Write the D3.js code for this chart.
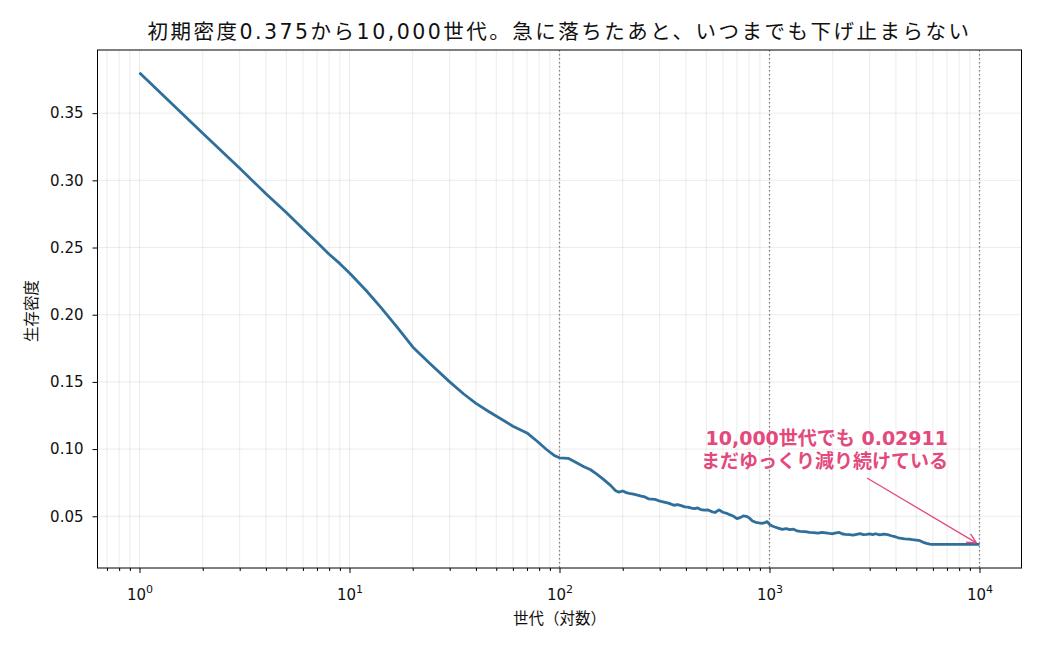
<!DOCTYPE html>
<meta charset="utf-8">
<style>
body{margin:0;background:#fff;}
svg{display:block}
text{font-family:"DejaVu Sans","Noto Sans CJK JP",sans-serif;fill:#111;}
</style>
<svg id="chart" width="1040" height="650"></svg>
<script src="https://d3js.org/d3.v7.min.js"></script>
<script>
// generations (log x) and surviving density
const generations = [1,2,3,4,5,6,7,8,9,10,12,14,17,20,24,30,35,40,46,52,60,70,78,87,95,100,
  110,120,130,140,150,162,175,185,192,200,208,215,225,235,245,255,265,275,285,295,305,315,330,
  340,350,365,380,395,410,425,440,455,470,490,510,530,550,575,600,625,650,675,700,725,750,775,
  800,830,860,890,920,950,975,1000,1030,1060,1100,1150,1200,1250,1300,1350,1400,1480,1550,1620,
  1700,1780,1850,1930,2000,2080,2150,2230,2300,2400,2500,2600,2700,2800,2900,3000,3100,3200,
  3350,3500,3650,3800,3950,4100,4250,4400,4600,4800,5000,5200,5400,5600,5800,5900,10000]
const density = [0.380,0.335,0.309,0.290,0.276,0.264,0.254,0.245,0.238,0.231,0.218,0.206,0.190,
  0.176,0.164,0.150,0.141,0.134,0.128,0.123,0.117,0.112,0.106,0.0995,0.0950,0.0935,
  0.0931,0.0900,0.0870,0.0848,0.0815,0.0775,0.0730,0.0690,0.0680,0.0688,0.0676,0.0670,0.0664,
  0.0657,0.0650,0.0644,0.0630,0.0628,0.0626,0.0617,0.0611,0.0606,0.0598,0.0590,0.0582,0.0586,
  0.0579,0.0570,0.0568,0.0561,0.0557,0.0562,0.0550,0.0546,0.0547,0.0535,0.0528,0.0548,0.0530,
  0.0522,0.0510,0.0500,0.0482,0.0490,0.0503,0.0500,0.0488,0.0465,0.0455,0.0450,0.0447,0.0452,
  0.0460,0.0440,0.0428,0.0420,0.0412,0.0402,0.0408,0.0400,0.0404,0.0392,0.0388,0.0386,0.0380,
  0.0378,0.0374,0.0380,0.0377,0.0372,0.0370,0.0376,0.0380,0.0368,0.0366,0.0364,0.0360,0.0366,
  0.0371,0.0364,0.0366,0.0369,0.0364,0.0370,0.0362,0.0368,0.0363,0.0355,0.0348,0.0340,0.0336,
  0.0332,0.0330,0.0326,0.0323,0.0318,0.0306,0.0298,0.0292,0.02911,0.02911]
const yTicks = [0.05,0.10,0.15,0.20,0.25,0.30,0.35]
const xMajor = [1,10,100,1000,10000]
const markLines = [100,1000,10000]
const titleText = '初期密度0.375から10,000世代。急に落ちたあと、いつまでも下げ止まらない'
const noteLines = ['10,000世代でも 0.02911','まだゆっくり減り続けている']

const W = 1040, H = 650
const m = {left:97.5, right:1021.5, top:50, bottom:568}
const svg = d3.select('#chart')

const x = d3.scaleLog().domain([10**-0.2, 10**4.2]).range([m.left, m.right])
const y = d3.scaleLinear().domain([0.0115, 0.397]).range([m.bottom, m.top])

// minor ticks 2..9 per decade inside the domain
const xMinor = []
for (let e = -1; e <= 4; e++) for (let k = 2; k <= 9; k++) {
  const v = k * 10**e
  if (v >= x.domain()[0] && v <= x.domain()[1]) xMinor.push(v)
}

const grid = svg.append('g')
grid.selectAll('line.vx').data(xMajor.concat(xMinor)).join('line')
  .attr('x1', d => x(d)).attr('x2', d => x(d))
  .attr('y1', m.top).attr('y2', m.bottom)
  .attr('stroke', '#000').attr('stroke-opacity', 0.1).attr('stroke-width', 0.8)
grid.selectAll('line.hy').data(yTicks).join('line')
  .attr('x1', m.left).attr('x2', m.right)
  .attr('y1', d => y(d)).attr('y2', d => y(d))
  .attr('stroke', '#000').attr('stroke-opacity', 0.1).attr('stroke-width', 0.8)

svg.append('g').selectAll('line').data(markLines).join('line')
  .attr('x1', d => x(d)).attr('x2', d => x(d))
  .attr('y1', m.top).attr('y2', m.bottom)
  .attr('stroke', '#808080').attr('stroke-width', 1.3).attr('stroke-dasharray', '1.5,2.5')

const line = d3.line().x((d, i) => x(generations[i])).y(d => y(d))
svg.append('path').datum(density)
  .attr('d', line).attr('fill', 'none')
  .attr('stroke', '#2f6f9c').attr('stroke-width', 2.8)
  .attr('stroke-linejoin', 'round')

// axes
const yAxis = svg.append('g').attr('transform', `translate(${m.left},0)`)
  .call(d3.axisLeft(y).tickValues(yTicks).tickFormat(d3.format('.2f')).tickSize(5).tickPadding(9))
yAxis.select('.domain').remove()
yAxis.selectAll('text').style('font-size', '15px').attr('fill', '#111')

const xAxis = svg.append('g').attr('transform', `translate(0,${m.bottom})`)
  .call(d3.axisBottom(x).tickValues(xMajor).tickFormat('').tickSize(5))
xAxis.select('.domain').remove()
svg.append('g').attr('transform', `translate(0,${m.bottom})`)
  .call(d3.axisBottom(x).tickValues(xMinor).tickFormat('').tickSize(3))
  .select('.domain').remove()

xAxis.selectAll('.tick').each(function(d) {
  const t = d3.select(this).append('text').attr('y', 32).attr('text-anchor', 'middle')
    .style('font-size', '15px').attr('fill', '#111')
  t.append('tspan').text('10')
  t.append('tspan').attr('dy', -7).style('font-size', '11px').text(Math.round(Math.log10(d)))
})

svg.append('rect')
  .attr('x', m.left).attr('y', m.top)
  .attr('width', m.right - m.left).attr('height', m.bottom - m.top)
  .attr('fill', 'none').attr('stroke', '#000').attr('stroke-width', 1)

// labels
svg.append('text').attr('x', (m.left + m.right) / 2).attr('y', 39)
  .attr('text-anchor', 'middle').style('font-size', '20.5px').style('letter-spacing', '2.5px')
  .text(titleText)
svg.append('text').attr('x', (m.left + m.right) / 2).attr('y', 624)
  .attr('text-anchor', 'middle').style('font-size', '15.5px').text('世代（対数）')
svg.append('text').attr('transform', 'translate(37,311) rotate(-90)')
  .attr('text-anchor', 'middle').style('font-size', '15.5px').text('生存密度')

// annotation
const pink = '#e4497c'
const note = svg.append('text').attr('text-anchor', 'end')
  .style('font-size', '19px').style('font-weight', 'bold')
note.selectAll('tspan').data(noteLines).join('tspan')
  .attr('x', 948).attr('y', (d, i) => 445 + i * 23).attr('fill', pink).text(d => d)

svg.append('defs').append('marker').attr('id', 'arr')
  .attr('viewBox', '0 0 10 10').attr('refX', 9).attr('refY', 5)
  .attr('markerWidth', 10).attr('markerHeight', 10).attr('markerUnits', 'userSpaceOnUse')
  .attr('orient', 'auto')
  .append('path').attr('d', 'M0,0 L10,5 L0,10').attr('fill', 'none')
  .attr('stroke', pink).attr('stroke-width', 1.4)
const tipX = x(10000) - 4, tipY = y(0.02911) - 2
svg.append('line').attr('x1', 867).attr('y1', 478).attr('x2', tipX).attr('y2', tipY)
  .attr('stroke', pink).attr('stroke-width', 1.3).attr('marker-end', 'url(#arr)')
</script>
